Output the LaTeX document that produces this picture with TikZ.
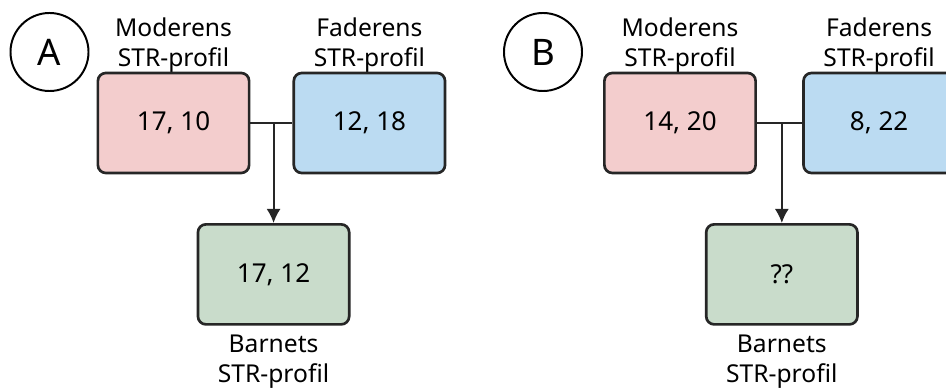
\documentclass[tikz,border=0pt]{standalone}
\usepackage{fontspec}
\setmainfont{Noto Sans}
\usetikzlibrary{positioning, calc, arrows.meta}
\definecolor{momfill}{RGB}{243,205,205}
\definecolor{dadfill}{RGB}{187,219,242}
\definecolor{kidfill}{RGB}{201,220,203}
\tikzset{
	profile/.style={draw=black!85, rectangle, line width=1.9pt, rounded corners=0.2cm, minimum width=3.78cm, minimum height=2.5cm, font=\fontsize{18.5}{22}\selectfont},
	mom/.style={profile, fill=momfill},
	dad/.style={profile, fill=dadfill},
	kid/.style={profile, fill=kidfill},
	caption/.style={align=center, inner sep=1pt, font=\fontsize{17.5}{21.3}\selectfont},
	panel/.style={draw, circle, line width=1.4pt, minimum size=1.95cm, inner sep=0pt, font=\fontsize{26}{30}\selectfont},
	link/.style={draw=black!85, line width=1.4pt},
}

\begin{document}
\begin{tikzpicture}[x=0.025cm, y=-0.025cm]
	\useasboundingbox (0,0) rectangle (946,392);
	\clip (0,0) rectangle (946,392);
	
	% panel A
	\node (circA) [panel] at (49.5,52) {A};
	\node (momA) [mom] at (173.5,123) {17, 10};
	\node (dadA) [dad, right=1.05cm of momA] {12, 18};
	\coordinate (jA) at ($(momA.east)!0.55!(dadA.west)$);
	\node (kidA) [kid, below=2.5cm of jA] {17, 12};
	
	\node (momAtxt) [caption, above=-2pt of momA] {Moderens\\STR-profil};
	\node (dadAtxt) [caption, above=-2pt of dadA] {Faderens\\STR-profil};
	\node (kidAtxt) [caption, below=0.2cm of kidA] {Barnets\\STR-profil};
	
	% panel B
	\node (circB) [panel] at (543,52) {B};
	\node (momB) [mom] at (680,123) {14, 20};
	\node (dadB) [dad, right=1.13cm of momB] {8, 22};
	\coordinate (jB) at ($(momB.east)!0.55!(dadB.west)$);
	\node (kidB) [kid, below=2.5cm of jB] {??};
	
	\node (momBtxt) [caption, above=-2pt of momB] {Moderens\\STR-profil};
	\node (dadBtxt) [caption, above=-2pt of dadB] {Faderens\\STR-profil};
	\node (kidBtxt) [caption, below=0.2cm of kidB] {Barnets\\STR-profil};
	
	\begin{scope}[link, -{Latex[length=10pt, width=10pt]}]
		\draw[-] (momA) -- (dadA);
		\draw (jA) -- (kidA);
		\draw[-] (momB) -- (dadB);
		\draw (jB) -- (kidB);
	\end{scope}
\end{tikzpicture}
\end{document}
